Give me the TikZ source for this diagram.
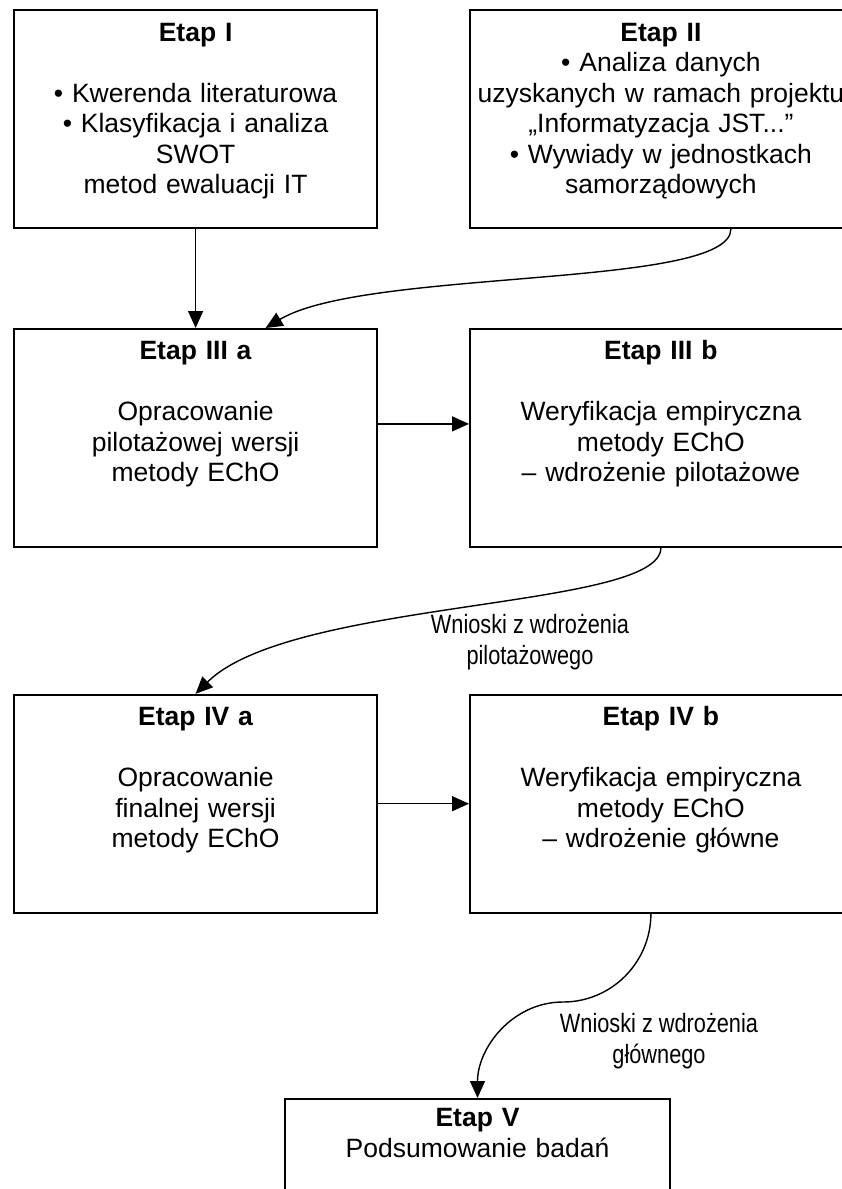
\documentclass[tikz,border=0pt]{standalone}
\usepackage{fontspec}
\setmainfont{Liberation Sans}
\newfontfamily\narrowfont[FakeStretch=0.82]{Liberation Sans}
\usetikzlibrary{matrix,positioning,arrows.meta}

\newcommand{\bodysize}{\fontsize{26.5}{30.5}\selectfont}

\tikzset{
  stage/.style={draw, line width=1.8pt, inner sep=0pt, align=center,
    font=\bodysize, text width=363pt, text height=31pt, text depth=187pt},
  link/.style={line width=1.4pt, -{Triangle[length=17pt,width=15pt]}},
  remark/.style={font=\narrowfont\bodysize, align=center, inner sep=0pt}
}

\begin{document}
\begin{tikzpicture}[x=1pt, y=1pt]
  \path[use as bounding box, fill=white] (0,0) rectangle (842,-1189);

  \matrix (m) at (13,-9) [matrix of nodes, anchor=north west, inner sep=0pt,
    column sep=91pt, nodes={stage},
    column 2/.style={nodes={text width=382pt}}]
  {
    {\textbf{Etap I}\\[30.5pt]• Kwerenda literaturowa\\• Klasyfikacja i analiza\\SWOT\\metod ewaluacji IT} &
    {\textbf{Etap II}\\• Analiza danych\\\makebox[0pt]{uzyskanych w ramach projektu}\\„Informatyzacja JST...”\\• Wywiady w jednostkach\\samorządowych} \\[99pt]
    {\textbf{Etap III a}\\[30.5pt]Opracowanie\\pilotażowej wersji\\metody EChO} &
    {\textbf{Etap III b}\\[30.5pt]Weryfikacja empiryczna\\metody EChO\\– wdrożenie pilotażowe} \\[146pt]
    {\textbf{Etap IV a}\\[30.5pt]Opracowanie\\finalnej wersji\\metody EChO} &
    {\textbf{Etap IV b}\\[30.5pt]Weryfikacja empiryczna\\metody EChO\\– wdrożenie główne} \\
  };

  \node[stage, text width=385pt, text height=28pt, text depth=150pt, anchor=north]
    (v) at (477.5,-1098) {\textbf{Etap V}\\Podsumowanie badań};

  \node[remark] (lblpilot) at (530,-642) {Wnioski z wdrożenia\\pilotażowego};
  \node[remark] (lblmain) at (659,-1041) {Wnioski z wdrożenia\\głównego};

  \path[link]
    (m-1-1) edge (m-2-1)
    ([yshift=14pt]m-2-1.east) edge ([yshift=14pt]m-2-2.west)
    (m-3-1) edge (m-3-2);

  \draw[link] ([xshift=70pt]m-1-2.south)
    .. controls +(0,-60) and +(100,60) .. ([xshift=70pt]m-2-1.north);
  \draw[link] (m-2-2.south)
    .. controls +(0,-62) and +(96,95) .. (m-3-1.north);

  \coordinate (bend) at (563,-1002);
  \draw[link] ([xshift=-10pt]m-3-2.south) to[out=-90,in=0] (bend)
    to[out=180,in=90] (v.north);
\end{tikzpicture}
\end{document}
